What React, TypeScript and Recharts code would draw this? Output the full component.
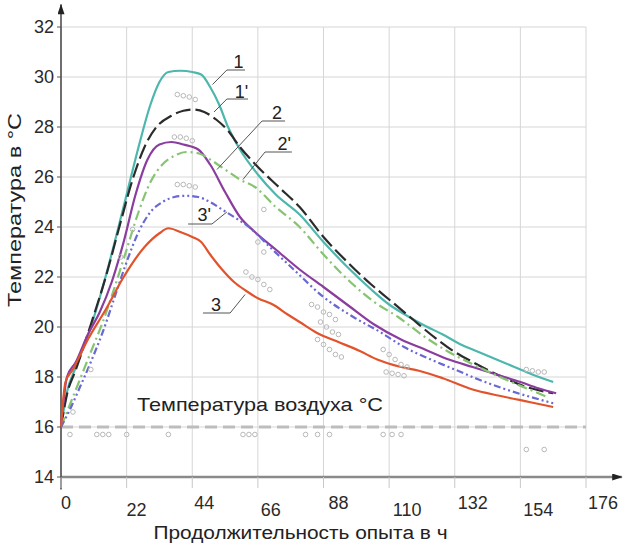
import React from "react";
import {
  CartesianGrid,
  ComposedChart,
  Label,
  Line,
  ReferenceDot,
  ReferenceLine,
  Scatter,
  XAxis,
  YAxis,
} from "recharts";

// Продолжительность опыта (ч) / температура (°C)
const hourTicks = [0, 22, 44, 66, 88, 110, 132, 154, 176];
const tempTicks = [14, 16, 18, 20, 22, 24, 26, 28, 30, 32];

const hours1 = [0, 2, 5, 10, 14, 18, 22, 26, 30, 33, 36, 40, 44, 47, 50, 53, 56, 60, 66, 72, 80, 88, 96, 104, 110, 116, 122, 128, 134, 140, 146, 152, 158, 165];
const temp1 = [16.0, 17.4, 18.4, 20.0, 21.6, 23.4, 25.3, 27.2, 28.9, 29.8, 30.2, 30.25, 30.2, 30.1, 29.6, 28.9, 28.0, 27.1, 26.1, 25.3, 24.5, 23.4, 22.4, 21.5, 20.9, 20.45, 20.05, 19.7, 19.3, 19.0, 18.7, 18.4, 18.1, 17.8];

const hours1p = [0, 2, 5, 10, 15, 20, 24, 28, 32, 37, 41, 44, 48, 52, 56, 60, 66, 73, 80, 88, 96, 104, 110, 118, 124, 132, 138, 148, 156, 165];
const temp1p = [16.0, 17.3, 18.3, 20.1, 22.0, 24.2, 25.9, 27.2, 28.0, 28.45, 28.65, 28.7, 28.6, 28.3, 27.85, 27.2, 26.4, 25.6, 24.8, 23.6, 22.6, 21.7, 21.1, 20.3, 19.7, 19.0, 18.6, 18.0, 17.6, 17.35];

const hours2 = [0, 2, 5, 9, 13, 17, 21, 25, 29, 33, 37, 41, 46, 50, 55, 60, 65, 72, 80, 88, 97, 105, 114, 122, 130, 138, 146, 154, 160, 166];
const temp2 = [16.0, 18.0, 18.6, 19.7, 20.6, 21.8, 23.4, 25.3, 26.7, 27.3, 27.4, 27.3, 27.1, 26.5, 25.4, 24.4, 23.8, 23.1, 22.3, 21.6, 20.8, 20.1, 19.5, 19.1, 18.7, 18.4, 18.1, 17.8, 17.55, 17.35];

const hours2p = [0, 3, 6, 10, 14, 18, 22, 26, 30, 34, 38, 42, 46, 50, 55, 60, 65, 72, 80, 88, 97, 105, 113, 122, 130, 140, 150, 157, 163];
const temp2p = [16.0, 16.9, 17.8, 19.0, 20.2, 21.6, 23.1, 24.6, 25.8, 26.5, 26.85, 27.0, 26.95, 26.7, 26.3, 25.9, 25.6, 24.8, 24.0, 22.9, 21.8, 21.0, 20.4, 19.6, 19.0, 18.4, 17.85, 17.5, 17.2];

const hours3p = [0, 3, 6, 10, 14, 18, 22, 26, 30, 34, 38, 42, 46, 50, 54, 58, 63, 70, 78, 88, 98, 107, 115, 124, 132, 140, 148, 156, 165];
const temp3p = [16.0, 16.7, 17.5, 18.6, 19.8, 21.2, 22.6, 23.8, 24.6, 25.0, 25.2, 25.25, 25.2, 25.0, 24.7, 24.4, 24.0, 23.2, 22.3, 21.2, 20.4, 19.8, 19.2, 18.7, 18.3, 17.9, 17.55, 17.25, 16.95];

const hours3 = [0, 1.5, 4, 9, 15, 21, 28, 33, 36, 40, 44, 47, 50, 54, 58, 62, 66, 71, 76, 80, 86, 93, 100, 106, 114, 120, 128, 138, 147, 157, 165];
const temp3 = [16.0, 17.8, 18.3, 19.5, 20.7, 22.0, 23.2, 23.75, 23.95, 23.8, 23.6, 23.4, 22.9, 22.3, 21.8, 21.45, 21.15, 20.9, 20.5, 20.2, 19.75, 19.4, 19.05, 18.7, 18.4, 18.25, 17.95, 17.5, 17.25, 17.0, 16.8];

const airTemp = 16;

// замеры
const pointHours = [3, 12, 14, 16, 22, 36, 61, 63, 65, 82, 86, 90, 108, 111, 114, 156, 162, 39, 41, 43, 45, 38, 40, 42, 44, 39, 41, 43, 45, 62, 64, 66, 68, 70, 66, 68, 68, 84, 86, 88, 90, 92, 87, 89, 91, 93, 86, 88, 90, 92, 94, 108, 110, 112, 114, 116, 109, 111, 113, 115, 156, 158, 160, 162, 4, 10, 20, 24];
const pointTemps = [15.7, 15.7, 15.7, 15.7, 15.7, 15.7, 15.7, 15.7, 15.7, 15.7, 15.7, 15.7, 15.7, 15.7, 15.7, 15.1, 15.1, 29.3, 29.25, 29.2, 29.1, 27.6, 27.6, 27.55, 27.45, 25.7, 25.7, 25.65, 25.6, 22.2, 22.0, 21.9, 21.7, 21.5, 23.4, 23.0, 24.7, 20.9, 20.8, 20.6, 20.5, 20.3, 20.2, 20.0, 19.8, 19.7, 19.5, 19.3, 19.1, 18.9, 18.8, 19.1, 18.9, 18.7, 18.5, 18.4, 18.2, 18.15, 18.1, 18.05, 18.3, 18.25, 18.2, 18.2, 16.6, 18.3, 22.8, 23.9];

const zip = (xs: number[], ys: number[]) => xs.map((x, i) => ({ x, y: ys[i] }));

const series = [
  { name: "1", data: zip(hours1, temp1), color: "#4db6ad", dash: undefined },
  { name: "1'", data: zip(hours1p, temp1p), color: "#2b2b2b", dash: "15 5" },
  { name: "2", data: zip(hours2, temp2), color: "#8a3d9e", dash: undefined },
  { name: "2'", data: zip(hours2p, temp2p), color: "#86c472", dash: "10 4 2 4" },
  { name: "3'", data: zip(hours3p, temp3p), color: "#6a68d2", dash: "7 3 2 3 2 3" },
  { name: "3", data: zip(hours3, temp3), color: "#e2532c", dash: undefined },
];

const points = zip(pointHours, pointTemps);

// подписи кривых: текст, под ним полка, выноска к кривой
const callouts = [
  { text: "1", tx: 59.5, ty: 30.6, from: 55.6, to: 61.7, shelf: 30.28, px: 50.8, py: 29.7 },
  { text: "1'", tx: 60.5, ty: 29.4, from: 55.6, to: 62.7, shelf: 29.12, px: 51.3, py: 28.6 },
  { text: "2", tx: 72.4, ty: 28.56, from: 67.4, to: 75.1, shelf: 28.24, px: 52.3, py: 26.3 },
  { text: "2'", tx: 74.8, ty: 27.32, from: 68.4, to: 77.4, shelf: 27.0, px: 61, py: 25.9 },
  { text: "3'", tx: 48, ty: 24.48, from: 42.6, to: 50.6, shelf: 24.12, px: 55.6, py: 24.6 },
  { text: "3", tx: 52, ty: 20.88, from: 47.6, to: 56.7, shelf: 20.56, px: 61.7, py: 21.3 },
];

const font = "'Liberation Sans', Arial, sans-serif";
const tickShift = [5, 10, 12, 13, 15, 18, 18, 18, 17];

const HourTick = (props: any) => {
  const { x, y, payload, index } = props;
  return (
    <text
      x={x + tickShift[index]}
      y={y}
      dy={index % 2 === 0 ? 19 : 26}
      textAnchor="middle"
      fontSize={18}
      fontFamily={font}
      fill="#2a2a2a"
    >
      {payload.value}
    </text>
  );
};

const arrowLine = (props: any) => (
  <line
    x1={props.x1}
    y1={props.y1}
    x2={props.x2}
    y2={props.y2}
    stroke={props.stroke}
    strokeWidth={props.strokeWidth}
    markerEnd="url(#arrowHead)"
  />
);

const textAt = (text: string, size: number, length?: number) => (p: any) => (
  <text
    x={p.cx}
    y={p.cy}
    dy="0.35em"
    textAnchor="middle"
    fontSize={size}
    fontFamily={font}
    fill="#222"
    textLength={length}
    lengthAdjust={length ? "spacingAndGlyphs" : undefined}
  >
    {text}
  </text>
);

export default function App() {
  return (
    <div style={{ position: "absolute", left: 0, top: 0, background: "#fff" }}>
      <ComposedChart
        width={631}
        height={551}
        margin={{ top: 27, right: 45, bottom: 24, left: 0 }}
      >
        <defs>
          <marker
            id="arrowHead"
            viewBox="0 0 12 8"
            refX="11"
            refY="4"
            markerWidth="14"
            markerHeight="7"
            markerUnits="userSpaceOnUse"
            orient="auto"
          >
            <path d="M0,0 L12,4 L0,8 z" fill="#222" />
          </marker>
        </defs>
        <CartesianGrid stroke="#d6d6d6" strokeWidth={1} />
        <XAxis
          axisLine={false}
          dataKey="x"
          domain={[0, 176]}
          height={50}
          tick={<HourTick />}
          tickLine={{ stroke: "#c8c8c8" }}
          tickSize={11}
          ticks={hourTicks}
          type="number"
        >
          <Label
            content={({ viewBox }: any) => (
              <text
                x={viewBox.x + viewBox.width / 2 - 23}
                y={viewBox.y + 62}
                textAnchor="middle"
                fontSize={18}
                fontFamily={font}
                fill="#222"
                textLength={294}
                lengthAdjust="spacingAndGlyphs"
              >
                Продолжительность опыта в ч
              </text>
            )}
          />
        </XAxis>
        <YAxis
          axisLine={false}
          domain={[14, 32]}
          tick={{ fontSize: 18, fill: "#2a2a2a", fontFamily: font }}
          tickLine={{ stroke: "#555" }}
          tickMargin={3}
          tickSize={4}
          ticks={tempTicks}
          type="number"
          width={61}
        >
          <Label
            content={() => (
              <text
                x={0}
                y={0}
                transform="translate(21,210) rotate(-90)"
                textAnchor="middle"
                fontSize={18}
                fontFamily={font}
                fill="#222"
                textLength={194}
                lengthAdjust="spacingAndGlyphs"
              >
                Температура в °C
              </text>
            )}
          />
        </YAxis>
        <ReferenceLine
          y={airTemp}
          stroke="#bdbdbd"
          strokeWidth={3}
          strokeDasharray="12 6"
        />
        <ReferenceDot
          x={66.7}
          y={16.9}
          ifOverflow="visible"
          shape={textAt("Температура воздуха °C", 19, 246)}
        />
        <ReferenceLine
          ifOverflow="visible"
          segment={[{ x: 0, y: 14 }, { x: 188, y: 14 }]}
          stroke="#8a8a8a"
          strokeWidth={2.5}
          shape={arrowLine}
        />
        <ReferenceLine
          ifOverflow="visible"
          segment={[{ x: 0, y: 13.5 }, { x: 0, y: 32.9 }]}
          stroke="#444"
          strokeWidth={1.5}
          shape={arrowLine}
        />
        <Scatter
          data={points}
          dataKey="y"
          isAnimationActive={false}
          shape={(p: any) => (
            <circle cx={p.cx} cy={p.cy} r={2.3} fill="none" stroke="#b8b8b8" strokeWidth={1} />
          )}
        />
        {series.map((s) => (
          <Line
            key={s.name}
            data={s.data}
            dataKey="y"
            dot={false}
            activeDot={false}
            isAnimationActive={false}
            stroke={s.color}
            strokeDasharray={s.dash}
            strokeWidth={2.2}
            type="monotone"
          />
        ))}
        {callouts.map((c) => (
          <ReferenceLine
            key={"shelf" + c.text}
            ifOverflow="visible"
            segment={[{ x: c.from, y: c.shelf }, { x: c.to, y: c.shelf }]}
            stroke="#555"
            strokeWidth={1}
          />
        ))}
        {callouts.map((c) => (
          <ReferenceLine
            key={"lead" + c.text}
            ifOverflow="visible"
            segment={[
              { x: c.px < c.from ? c.from : c.to, y: c.shelf },
              { x: c.px, y: c.py },
            ]}
            stroke="#555"
            strokeWidth={1}
          />
        ))}
        {callouts.map((c) => (
          <ReferenceDot
            key={"txt" + c.text}
            x={c.tx}
            y={c.ty}
            ifOverflow="visible"
            shape={textAt(c.text, 18)}
          />
        ))}
      </ComposedChart>
    </div>
  );
}
